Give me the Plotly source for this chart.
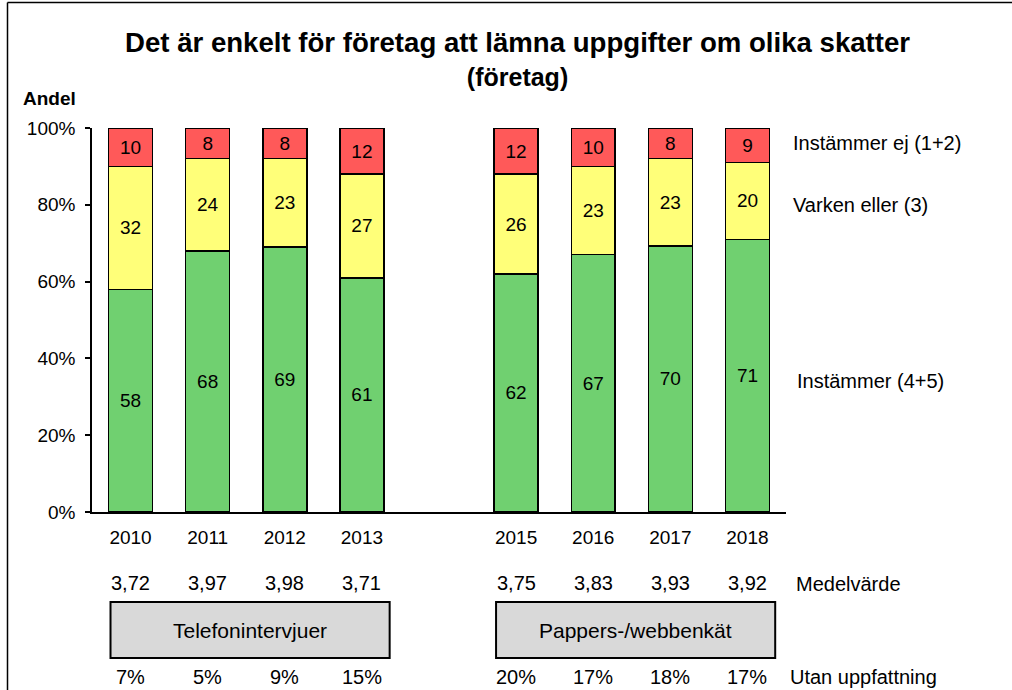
import plotly.graph_objects as go

# ---- data ----
years = [2010, 2011, 2012, 2013, 2015, 2016, 2017, 2018]
instammer = [58, 68, 69, 61, 62, 67, 70, 71]          # Instämmer (4+5)
varken = [32, 24, 23, 27, 26, 23, 23, 20]             # Varken eller (3)
instammer_ej = [10, 8, 8, 12, 12, 10, 8, 9]           # Instämmer ej (1+2)
medelvarde = [3.72, 3.97, 3.98, 3.71, 3.75, 3.83, 3.93, 3.92]
utan_uppfattning = [7, 5, 9, 15, 20, 17, 18, 17]
group_names = ["Telefonintervjuer", "Pappers-/webbenkät"]
group_years = [[2010, 2013], [2015, 2018]]
series_names = ["Instämmer (4+5)", "Varken eller (3)", "Instämmer ej (1+2)"]
y_ticks = [0, 20, 40, 60, 80, 100]

FONT = "Arial, Liberation Sans, sans-serif"
colors = ["#70D070", "#FFFF79", "#FF5959"]
FS = 19

fig = go.Figure()
for vals, name, col in zip([instammer, varken, instammer_ej], series_names, colors):
    fig.add_trace(go.Bar(
        x=years, y=vals, name=name, width=0.57,
        marker=dict(color=col, line=dict(color="black", width=1.5)),
        text=[str(v) for v in vals], textposition="inside",
        insidetextanchor="middle", textangle=0,
        textfont=dict(family=FONT, size=FS, color="black"),
        constraintext="none", showlegend=False, hoverinfo="skip",
    ))

O = 0  # page body offset (body margin removed below)
W, H = 1012, 690
L, R, T, B = 92, 226, 128, 178
pw, ph = W - L - R, H - T - B

def py_(py):
    return (H - B - (py - O)) / ph

def px_(px):
    return ((px - O) - L) / pw

annotations = []
# Title
annotations.append(dict(
    text="<b><span style='font-size:27.6px'>Det är enkelt för företag att lämna uppgifter om olika skatter</span>"
         "<br><span style='font-size:25px'>(företag)</span></b>",
    xref="paper", yref="paper", x=px_(517), y=py_(59),
    xanchor="center", yanchor="middle", showarrow=False,
    font=dict(family=FONT, size=26, color="black")))
# Andel
annotations.append(dict(
    text="<b>Andel</b>", xref="paper", yref="paper",
    x=px_(21), y=py_(98), xanchor="left", yanchor="middle",
    showarrow=False, font=dict(family=FONT, size=FS, color="black")))
# series labels at right
for txt, yv, xpx in [(series_names[2], 96, 791), (series_names[1], 80, 791), (series_names[0], 34, 795)]:
    annotations.append(dict(
        text=txt, xref="paper", yref="y", x=px_(xpx), y=yv,
        xanchor="left", yanchor="middle", showarrow=False,
        font=dict(family=FONT, size=20, color="black")))
# Medelvärde row
for yr, m in zip(years, medelvarde):
    annotations.append(dict(
        text=f"{m:.2f}".replace(".", ","), xref="x", yref="paper",
        x=yr, y=py_(583), xanchor="center", yanchor="middle",
        showarrow=False, font=dict(family=FONT, size=20, color="black")))
annotations.append(dict(
    text="Medelvärde", xref="paper", yref="paper", x=px_(794), y=py_(584),
    xanchor="left", yanchor="middle", showarrow=False,
    font=dict(family=FONT, size=20, color="black")))
# Utan uppfattning row
for yr, u in zip(years, utan_uppfattning):
    annotations.append(dict(
        text=f"{u}%", xref="x", yref="paper",
        x=yr, y=py_(677), xanchor="center", yanchor="middle",
        showarrow=False, font=dict(family=FONT, size=20, color="black")))
annotations.append(dict(
    text="Utan uppfattning", xref="paper", yref="paper", x=px_(788), y=py_(677),
    xanchor="left", yanchor="middle", showarrow=False,
    font=dict(family=FONT, size=20, color="black")))

shapes = []
# group boxes
for name, (y0, y1) in zip(group_names, group_years):
    x0, x1 = y0 - 0.26, y1 + 0.36
    shapes.append(dict(type="rect", xref="x", yref="paper",
                       x0=x0, x1=x1, y0=py_(658), y1=py_(602),
                       fillcolor="#D9D9D9", line=dict(color="black", width=2), layer="above"))
    annotations.append(dict(
        text=name, xref="x", yref="paper", x=(x0 + x1) / 2, y=py_(630),
        xanchor="center", yanchor="middle", showarrow=False,
        font=dict(family=FONT, size=21, color="black")))
# outer border (left and top edges; the rest lies outside the picture)
shapes.append(dict(type="line", xref="paper", yref="paper",
                   x0=px_(7.5), x1=px_(7.5), y0=py_(700), y1=py_(2.5),
                   line=dict(color="black", width=1.5)))
shapes.append(dict(type="line", xref="paper", yref="paper",
                   x0=px_(7.5), x1=px_(1020), y0=py_(2.5), y1=py_(2.5),
                   line=dict(color="black", width=1.5)))

fig.update_layout(
    width=W, height=H, barmode="stack", barnorm="percent",
    margin=dict(l=L, r=R, t=T, b=B, pad=0),
    paper_bgcolor="white", plot_bgcolor="white",
    font=dict(family=FONT, size=FS, color="black"),
    annotations=annotations, shapes=shapes,
    xaxis=dict(range=[2009.5, 2018.5], tickvals=years, ticktext=[str(y) for y in years],
               showline=True, linecolor="black", linewidth=1.5, ticks="",
               showgrid=False, zeroline=False, ticklabelstandoff=7,
               tickfont=dict(family=FONT, size=FS, color="black")),
    yaxis=dict(range=[0, 100], tickvals=y_ticks, ticktext=[f"{v}%" for v in y_ticks],
               showline=True, linecolor="black", linewidth=1.5,
               ticks="outside", ticklen=5, tickcolor="black", tickwidth=1.5,
               showgrid=False, zeroline=False, ticklabelstandoff=6,
               tickfont=dict(family=FONT, size=FS, color="black")),
)

fig.write_html("out.html", config={"displayModeBar": False},
               post_script="document.documentElement.style.overflow='hidden';"
                           "document.body.style.margin='0px';document.body.style.overflow='hidden';")
